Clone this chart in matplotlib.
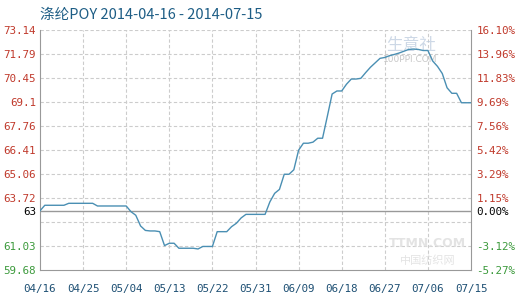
import matplotlib.pyplot as plt
import numpy as np
import datetime as dt

# POY price, one value per calendar day from 2014-04-16
start = dt.date(2014, 4, 16)
prices = [63.0,
          63.31, 63.31, 63.31, 63.31, 63.31,
          63.42, 63.42, 63.42, 63.42, 63.42, 63.42,
          63.27, 63.27, 63.27, 63.27, 63.27, 63.27, 63.27,
          62.95, 62.75, 62.15, 61.9, 61.87, 61.87, 61.83, 61.05,
          61.18, 61.18, 60.9, 60.9, 60.9, 60.9, 60.86, 61.0, 61.0, 61.0,
          61.83, 61.83, 61.83, 62.11, 62.3, 62.6, 62.8, 62.8, 62.8, 62.8, 62.8,
          63.5, 63.98, 64.2, 65.05, 65.05, 65.3, 66.4, 66.79, 66.79, 66.85,
          67.07, 67.07, 68.3, 69.55, 69.72, 69.72, 70.1, 70.39, 70.39, 70.43,
          70.75, 71.05, 71.3, 71.55, 71.6, 71.7, 71.77, 71.85, 71.95, 72.05,
          72.07, 72.05, 71.99, 71.99, 71.4, 71.1, 70.7, 69.9, 69.59, 69.59,
          69.06, 69.06, 69.06]
days = np.arange(len(prices))

base = 63
left_ticks = [73.14, 71.79, 70.45, 69.1, 67.76, 66.41, 65.06, 63.72, 63, 61.03, 59.68]
left_labels = ["73.14", "71.79", "70.45", "69.1", "67.76", "66.41", "65.06", "63.72", "63", "61.03", "59.68"]
right_labels = ["16.10%", "13.96%", "11.83%", "9.69%", "7.56%", "5.42%", "3.29%", "1.15%", "0.00%", "-3.12%", "-5.27%"]
grid_levels = [73.14, 71.79, 70.45, 69.1, 67.76, 66.41, 65.06, 63.72, 62.37, 61.03]
xtick_days = list(range(0, 91, 9))
xtick_labels = [(start + dt.timedelta(days=int(d))).strftime("%m/%d") for d in xtick_days]

red = "#c0392b"
green = "#3c9a3c"
mono = "DejaVu Sans Mono"
cjk = ["Noto Sans CJK SC", "DejaVu Sans"]

fig = plt.figure(figsize=(5.2, 3.0), dpi=100)
ax = fig.add_axes([40 / 520, 30 / 300, 431 / 520, 240 / 300])
ax.set_xlim(0, 90)
ax.set_ylim(59.68, 73.14)

for g in grid_levels:
    ax.axhline(g, color="#cccccc", lw=0.8, ls=(0, (3, 2)), zorder=0)
for d in xtick_days[1:-1]:
    ax.axvline(d, color="#cccccc", lw=0.8, ls=(0, (3, 2)), zorder=0)
ax.axhline(base, color="#999999", lw=1.0, zorder=1)

ax.plot(days, prices, color="#4a8fb3", lw=1.0, zorder=3)

for s in ["left", "right", "bottom"]:
    ax.spines[s].set_color("#999999")
ax.spines["top"].set_visible(False)

ax.set_yticks(left_ticks)
ax.set_yticklabels(left_labels, fontfamily=mono, fontsize=7.8)
ax.tick_params(axis="y", length=0, pad=3)
for lab, v in zip(ax.get_yticklabels(), left_ticks):
    lab.set_color(red if v > base else ("black" if v == base else green))

ax2 = ax.twinx()
ax2.set_ylim(ax.get_ylim())
ax2.set_yticks(left_ticks)
ax2.set_yticklabels(right_labels, fontfamily=mono, fontsize=7.8)
ax2.tick_params(axis="y", length=0, pad=4)
for lab, v in zip(ax2.get_yticklabels(), left_ticks):
    lab.set_color(red if v > base else ("black" if v == base else green))
for s in ax2.spines.values():
    s.set_visible(False)

ax.set_xticks(xtick_days)
ax.set_xticklabels(xtick_labels, fontfamily=mono, fontsize=7.8, color="#1d4f73")
ax.tick_params(axis="x", length=0, pad=10)

fig.text(40 / 520, 1 - 15 / 300, "涤纶POY 2014-04-16 - 2014-07-15", fontsize=10.5,
         family=cjk, color="#1d5d85", va="center")

# faint watermarks, kept inside the plot area
ax.text(0.86, 0.935, "生意社", transform=ax.transAxes, fontsize=12, color="#b8c8dc",
        alpha=0.7, family=cjk, ha="center", va="center", zorder=2)
ax.text(0.86, 0.875, "100PPI.COM", transform=ax.transAxes, fontsize=6.5, color="#b0b0b0",
        alpha=0.7, ha="center", va="center", zorder=2)
ax.text(0.9, 0.11, "TTMN.COM", transform=ax.transAxes, fontsize=9, color="#dddddd",
        fontweight="bold", ha="center", va="center", alpha=0.8, zorder=2)
ax.text(0.9, 0.04, "中国纺织网", transform=ax.transAxes, fontsize=8, color="#dddddd",
        family=cjk, ha="center", va="center", alpha=0.8, zorder=2)

fig.savefig("out.png", dpi=100)
